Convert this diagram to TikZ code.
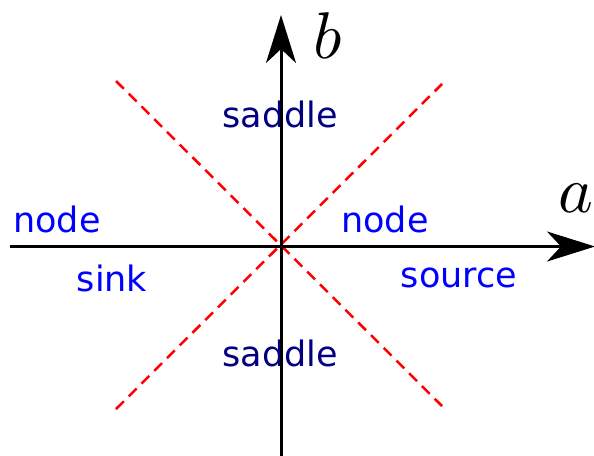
\documentclass[tikz,border=0pt]{standalone}
\usepackage{fontspec}
\setmainfont{DejaVu Sans}
\usetikzlibrary{arrows.meta}
\definecolor{saddlecol}{RGB}{0,0,128}
\definecolor{nodecol}{RGB}{0,0,255}
\begin{document}
\begin{tikzpicture}[x=1pt,y=-1pt,
  axis/.style={line width=3pt,-{Stealth[length=48pt,width=30pt,inset=14pt]}},
  sep/.style={red,line width=2.5pt,dash pattern=on 11pt off 7pt},
  lbl/.style={font=\fontsize{35}{38}\selectfont,inner sep=0pt},
  mathlbl/.style={scale=6.6,inner sep=0pt}]
\useasboundingbox (0,0) rectangle (594,455);
\coordinate (xl) at (10,246.5);
\coordinate (xr) at (595,246.5);
\coordinate (yb) at (281,456);
\coordinate (yt) at (281,15);
\coordinate (d1a) at (116,81);
\coordinate (d1b) at (442,406);
\coordinate (d2a) at (116,409);
\coordinate (d2b) at (442,84);
\node[lbl,text=saddlecol] (s1) at (280,114) {saddle};
\node[lbl,text=saddlecol] (s2) at (280,353) {saddle};
\node[lbl,text=nodecol] (n1) at (57,219) {node};
\node[lbl,text=nodecol] (n2) at (385,219) {node};
\node[lbl,text=nodecol] (sk) at (112,278) {sink};
\node[lbl,text=nodecol] (sc) at (459,278) {source};
\draw[sep] (d1a) -- (d1b);
\draw[sep] (d2a) -- (d2b);
\draw[axis] (xl) -- (xr);
\draw[axis] (yb) -- (yt);
\node[mathlbl] (b) at (328,36) {$b$};
\node[mathlbl] (a) at (576,198) {$a$};
\end{tikzpicture}
\end{document}
